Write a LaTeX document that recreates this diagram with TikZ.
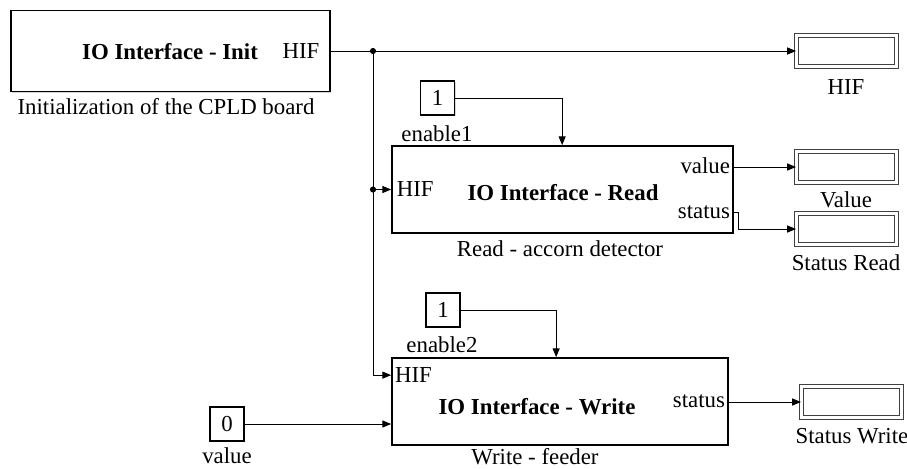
\documentclass[tikz,border=0pt]{standalone}
\usepackage{fontspec}
\setmainfont{Liberation Serif}
\usetikzlibrary{positioning,calc,arrows.meta,shadows}

\begin{document}
\begin{tikzpicture}[x=0.02cm,y=-0.02cm,
    font=\fontsize{13}{15}\selectfont,
    block/.style={draw,line width=1pt,fill=white,
        drop shadow={shadow xshift=0.8pt,shadow yshift=-0.8pt,opacity=0.35}},
    constblock/.style={draw,line width=0.6pt,fill=white,inner sep=0pt,
        minimum width=0.68cm,minimum height=0.68cm,
        drop shadow={shadow xshift=0.7pt,shadow yshift=-0.7pt,opacity=0.3}},
    display/.style={draw=black!75,line width=0.6pt,fill=white,double=white,double distance=1.2pt,
        minimum width=2.0cm,minimum height=0.62cm,
        drop shadow={shadow xshift=0.7pt,shadow yshift=-0.7pt,opacity=0.3}},
    wire/.style={line width=0.5pt,-{Triangle[length=5pt,width=4pt]}},
    junction/.style={circle,fill,inner sep=0pt,minimum size=3.5pt}]

    \useasboundingbox (0,0) rectangle (907,468);

    % main blocks
    \node[block,minimum width=6.38cm,minimum height=1.62cm] (init) at (170.5,51) {};
    \node[block,minimum width=6.82cm,minimum height=1.74cm] (read) at (562.5,189.5) {};
    \node[block,minimum width=6.72cm,minimum height=1.74cm] (write) at (560,401.5) {};

    \node at (170,52) {\textbf{IO Interface - Init}};
    \node at (563,193) {\textbf{IO Interface - Read}};
    \node at (537,407) {\textbf{IO Interface - Write}};

    \node[anchor=east] (inithif) at ([xshift=-3pt]init.east) {HIF};
    \node at (166,107) {Initialization of the CPLD board};
    \node at (560,249) {Read - accorn detector};
    \node at (535,457) {Write - feeder};

    \coordinate (rdval) at ($(read.north east)+(0,21)$);
    \coordinate (rdst) at ($(read.north east)+(0,67)$);
    \coordinate (rden) at ($(read.north west)+(171,0)$);
    \coordinate (wrhif) at ($(write.north west)+(0,18)$);
    \coordinate (wrst) at ($(write.north east)+(0,44)$);
    \coordinate (wren) at ($(write.north west)+(165,0)$);

    \node[anchor=west,inner sep=1pt] at ([xshift=2pt]read.west) {HIF};
    \node[anchor=east,inner sep=1pt] at ([xshift=-1pt]rdval) {value};
    \node[anchor=east,inner sep=1pt] at ([xshift=-1pt]rdst) {status};
    \node[anchor=west,inner sep=1pt] at ([xshift=1pt]wrhif) {HIF};
    \node[anchor=east,inner sep=1pt] at ([xshift=-1pt]wrst) {status};

    % constants
    \node[constblock] (en1) at (437.5,98) {1};
    \node[constblock] (en2) at (443,310) {1};
    \node[constblock] (val0) at (227,424) {0};
    \node at (437,134) {enable1};
    \node at (442,345) {enable2};
    \node at (227,456) {value};

    % displays
    \node[display] (hifout) at (846.5,51) {};
    \node[display] (valout) at (846.5,167) {};
    \node[display] (statread) at (846.5,229) {};
    \node[display] (statwrite) at (851.5,402) {};
    \node at (846,87) {HIF};
    \node at (846,200) {Value};
    \node at (846,263) {Status Read};
    \node at (852,436) {Status Write};

    % signal lines
    \node[junction] (split) at (373,51) {};
    \node[junction] (split2) at (split |- read.west) {};

    \draw[wire] (init.east) -- (hifout.west);
    \draw[wire] (split.center) |- (wrhif);
    \draw[wire] (split2.center) -- (read.west);
    \draw[wire] (en1.east) -| (rden);
    \draw[wire] (en2.east) -| (wren);
    \draw[wire] (val0.east) -- (val0.east -| write.west);
    \draw[wire] (valout.west -| read.east) -- (valout.west);
    \draw[wire] (rdst) -- ++(5,0) |- (statread.west);
    \draw[wire] (statwrite.west -| write.east) -- (statwrite.west);
\end{tikzpicture}
\end{document}
